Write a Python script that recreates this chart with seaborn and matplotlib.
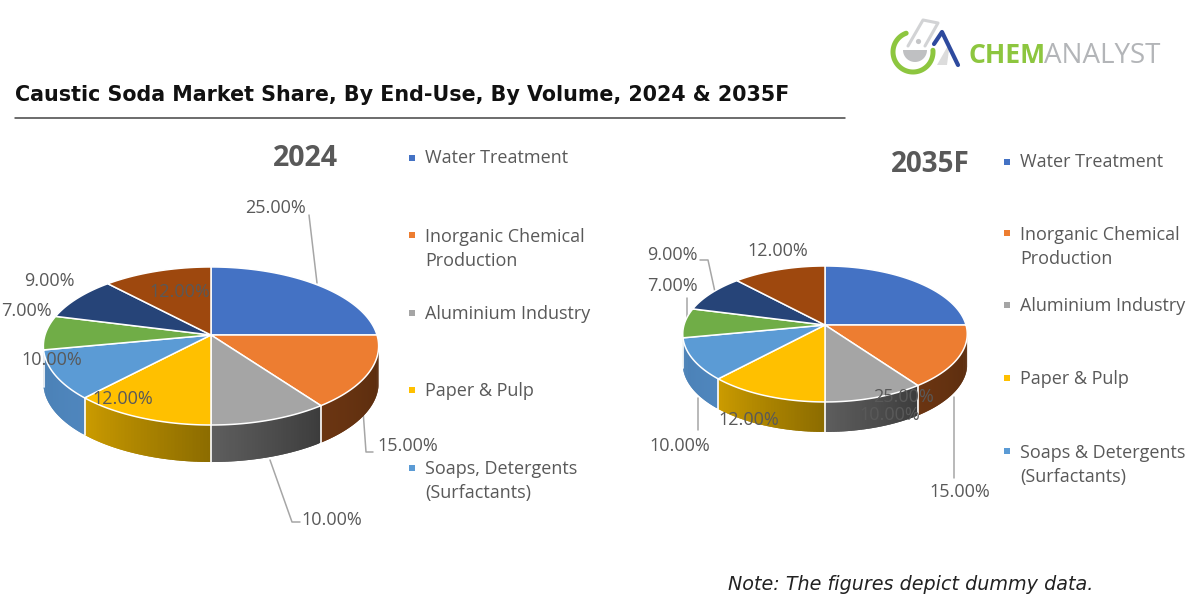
import numpy as np
import matplotlib
matplotlib.use("Agg")
import matplotlib.pyplot as plt
import seaborn as sns

# data
segments = ["Water Treatment", "Inorganic Chemical Production", "Aluminium Industry",
            "Paper & Pulp", "Soaps, Detergents (Surfactants)", "Other 1", "Other 2", "Other 3"]
shares_2024 = [25, 15, 10, 12, 10, 7, 9, 12]
shares_2035 = [25, 15, 10, 12, 10, 7, 9, 12]
top_colors = ["#4472C4", "#ED7D31", "#A5A5A5", "#FFC000", "#5B9BD5", "#70AD47", "#264478", "#9E480E"]
# (left end, right end) of the shaded wall under each slice
side_colors = [("#2f5597", "#2f5597"), ("#6b3512", "#592c0e"), ("#5e5e5e", "#3c3c3c"),
               ("#cc9c00", "#8c6c00"), ("#4a80b5", "#4f86bd"), ("#4e7a32", "#4e7a32"),
               ("#1a3055", "#1a3055"), ("#6f320a", "#6f320a")]

legend_left = ["Water Treatment", "Inorganic Chemical\nProduction", "Aluminium Industry",
               "Paper & Pulp", "Soaps, Detergents\n(Surfactants)"]
legend_right = ["Water Treatment", "Inorganic Chemical\nProduction", "Aluminium Industry",
                "Paper & Pulp", "Soaps & Detergents\n(Surfactants)"]

GREY = "#595959"
LEADER = "#a6a6a6"
FONT = "Open Sans"
WALL_START = np.deg2rad(100)
WALL_END = np.deg2rad(260)


def project(theta, cx, cy, rx, k, a):
    # clockwise from 12 o'clock, with a little perspective like the Excel 3D pie
    u = np.sin(theta)
    v = np.cos(theta)
    w = 1 + a * v
    return cx + rx * u / w, cy - k * v / w


def draw_pie(ax, shares, cx, cy, rx, k, a, depth):
    edges = np.deg2rad(np.cumsum([0] + list(shares)) / sum(shares) * 360)

    # side wall first, cut in thin strips for the shading
    for i in range(len(shares)):
        start = max(edges[i], WALL_START)
        end = min(edges[i + 1], WALL_END)
        if end <= start:
            continue
        steps = np.linspace(start, end, 41)
        c_left = np.array(matplotlib.colors.to_rgb(side_colors[i][0]))
        c_right = np.array(matplotlib.colors.to_rgb(side_colors[i][1]))
        for j in range(len(steps) - 1):
            # each strip runs on over the next one so no seams show
            t = np.linspace(steps[j], steps[min(j + 2, len(steps) - 1)], 4)
            x, y = project(t, cx, cy, rx, k, a)
            frac = (j + 0.5) / (len(steps) - 1)
            ax.fill(np.r_[x, x[::-1]], np.r_[y, y[::-1] + depth],
                    color=c_right * (1 - frac) + c_left * frac, lw=0, zorder=2)
        x0, y0 = project(np.array([start]), cx, cy, rx, k, a)
        if start > WALL_START:
            ax.plot([x0[0], x0[0]], [y0[0], y0[0] + depth], color="white", lw=1.2, zorder=3)

    # top face
    for i in range(len(shares)):
        t = np.linspace(edges[i], edges[i + 1], 80)
        x, y = project(t, cx, cy, rx, k, a)
        ax.fill(np.r_[cx, x], np.r_[cy, y], facecolor=top_colors[i],
                edgecolor="white", lw=1.1, zorder=4)


def draw_legend(ax, labels, marker_x, text_x, rows, text_rows):
    sns.scatterplot(x=[marker_x] * len(labels), y=rows, hue=labels, hue_order=labels,
                    palette=top_colors[:len(labels)], marker="s", s=16, linewidth=0,
                    legend=False, ax=ax, zorder=6)
    for lab, yy in zip(labels, text_rows):
        ax.text(text_x, yy, lab, fontsize=13, color=GREY, family=FONT, va="center",
                linespacing=1.48, zorder=6)


def draw_labels(ax, shares, spots):
    for value, (xx, yy) in zip(shares, spots):
        ax.text(xx, yy, f"{value:.2f}%", fontsize=13, color=GREY, family=FONT,
                ha="center", va="center", zorder=7)


def draw_logo(ax):
    phi = np.deg2rad(np.linspace(-110, -365, 80))
    ax.plot(913 + 20 * np.cos(phi), 52 + 20 * np.sin(phi), color="#8dc63f",
            lw=3.6, solid_capstyle="round", zorder=5)
    # flask outline and bowl
    ax.plot([908, 923, 938, 925], [46, 20, 23, 46], color="#d2d3d5", lw=2.2, zorder=5)
    ax.scatter([918], [41], s=14, color="#c4c5c7", linewidth=0, zorder=5)
    t = np.linspace(0, np.pi, 30)
    ax.fill(915 + 12 * np.cos(t), 50 + 12 * np.sin(t), color="#bfc0c2", lw=0, zorder=5)
    # the A
    ax.fill([937, 950, 947, 940], [65, 42, 65, 65], color="#dcdcdc", lw=0, zorder=5)
    ax.plot([934, 942, 958], [44, 32, 65], color="#2e4a9e", lw=3, zorder=6)
    ax.text(968, 56, "CHEM", fontsize=19.2, color="#8dc63f", family=FONT, weight="bold",
            va="center", zorder=6)
    ax.text(1044, 56, "ANALYST", fontsize=20, color="#b3b5b8", family=FONT, va="center", zorder=6)


sns.set_theme(style="white")
fig = plt.figure(figsize=(11.87, 5.95), dpi=100)
ax = fig.add_axes([0, 0, 1, 1])

draw_pie(ax, shares_2024, 211, 335, 166, 77.5, 0.139, 37)
draw_pie(ax, shares_2035, 825, 325, 141, 66.8, 0.132, 30)

draw_legend(ax, legend_left, 412, 425, [158, 235, 313, 390, 468], [158, 249, 314, 391, 481])
draw_legend(ax, legend_right, 1007, 1020, [162, 233, 305, 378, 451], [162, 247, 306, 379, 465])

draw_labels(ax, shares_2024, [(276, 208), (408, 446), (332, 520), (123, 399), (52, 360),
                              (26, 311), (49, 281), (180, 292)])
draw_labels(ax, shares_2035, [(903, 397), (960, 492), (890, 415), (749, 420), (680, 446),
                              (672, 286), (672, 255), (778, 251)])

leaders = [([309, 317], [215, 283]),
           ([363, 366, 373], [410, 452, 452]),
           ([270, 292, 300], [460, 522, 522]),
           ([700, 708, 715], [260, 260, 292]),
           ([687, 687], [298, 318]),
           ([698, 698], [430, 398]),
           ([954, 954], [397, 478])]
for lx, ly in leaders:
    ax.plot(lx, ly, color=LEADER, lw=1.1, zorder=1)

ax.text(305, 158, "2024", fontsize=20.5, color=GREY, family=FONT, weight="bold", ha="center", va="center")
ax.text(930, 164, "2035F", fontsize=20, color=GREY, family=FONT, weight="bold", ha="center", va="center")

ax.text(15, 95, "Caustic Soda Market Share, By End-Use, By Volume, 2024 & 2035F", fontsize=14.9,
        color="#111111", family="DejaVu Sans", weight="bold", va="center")
ax.plot([15, 845], [118, 118], color="#444444", lw=1.1)
ax.text(728, 585, "Note: The figures depict dummy data.", fontsize=13.8, color="#222222",
        family="DejaVu Sans", style="italic", va="center")

draw_logo(ax)

ax.set_xlim(0, 1187)
ax.set_ylim(595, 0)
ax.axis("off")
fig.savefig("out.png", dpi=100, facecolor="white")
